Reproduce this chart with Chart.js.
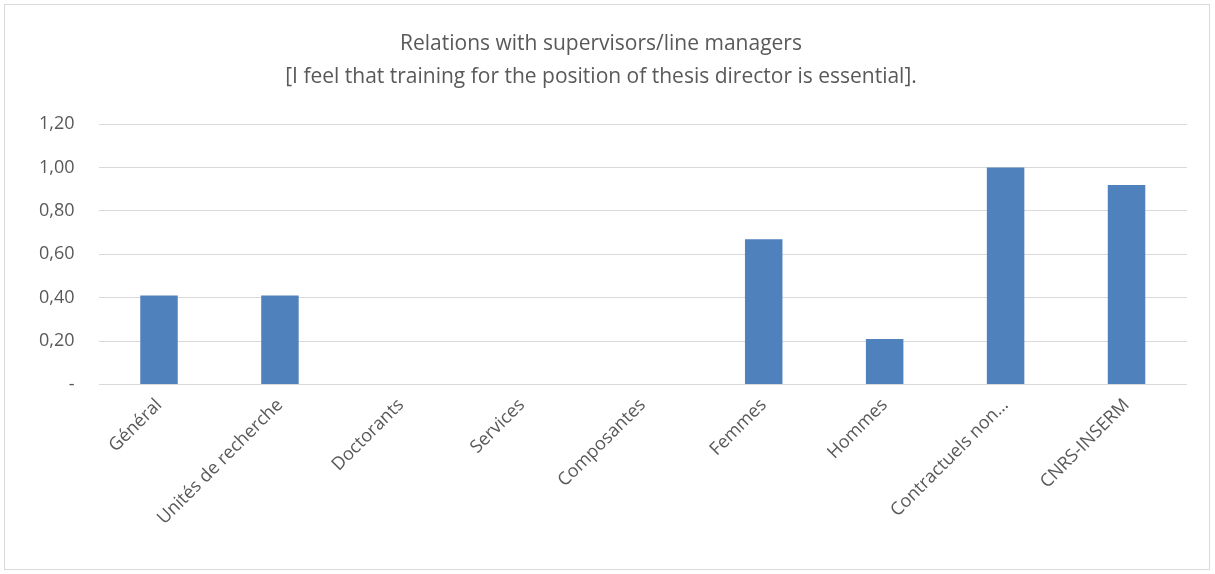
<!DOCTYPE html>
<html>
<head>
<meta charset="utf-8">
<script src="https://cdn.jsdelivr.net/npm/chart.js@4"></script>
<style>
  html, body { margin: 0; padding: 0; background: #fff; }
  #cadre {
    position: absolute; left: 4px; top: 4px;
    width: 1206px; height: 566px;
    border: 1px solid #d9d9d9; box-sizing: border-box;
  }
</style>
</head>
<body>
<div id="cadre"><canvas id="graphique"></canvas></div>
<script>
// --=| Données
let categories = ["Général", "Unités de recherche", "Doctorants", "Services", "Composantes",
  "Femmes", "Hommes", "Contractuels non…", "CNRS-INSERM"]
let valeurs = [0.41, 0.41, 0, 0, 0, 0.67, 0.21, 1.00, 0.92]
let titre = ["Relations with supervisors/line managers",
  "[I feel that training for the position of thesis director is essential]."]

const police = "'Open Sans', 'DejaVu Sans', sans-serif"

const graphique = new Chart(document.getElementById("graphique"), {
  type: "bar",
  data: {
    labels: categories,
    datasets: [
      {
        data: valeurs,
        backgroundColor: "#4f81bd",
        borderWidth: 0,
        barPercentage: 0.31,
        categoryPercentage: 1,
      },
    ],
  },
  options: {
    responsive: true,
    maintainAspectRatio: false,
    animation: false,
    layout: { padding: { left: 10, right: 22, top: 6, bottom: 30 } },
    scales: {
      x: {
        grid: { display: false, drawTicks: false },
        border: { display: false },
        ticks: {
          maxRotation: 45,
          minRotation: 45,
          autoSkip: false,
          padding: 10,
          color: "#595959",
          font: { family: police, size: 18 },
        },
      },
      y: {
        min: 0,
        max: 1.2,
        grid: { color: "#d9d9d9", lineWidth: 1, drawTicks: false },
        border: { display: false },
        ticks: {
          stepSize: 0.2,
          padding: 24,
          color: "#595959",
          font: { family: police, size: 18 },
          callback: (v) => (Math.abs(v) < 1e-9 ? "-" : v.toFixed(2).replace(".", ",")),
        },
      },
    },
    plugins: {
      legend: { display: false },
      tooltip: { enabled: false },
      title: {
        display: true,
        text: titre,
        color: "#595959",
        font: { family: police, size: 21, weight: "normal", lineHeight: 1.6 },
        padding: { top: 16, bottom: 30 },
      },
    },
  },
})
</script>
</body>
</html>
